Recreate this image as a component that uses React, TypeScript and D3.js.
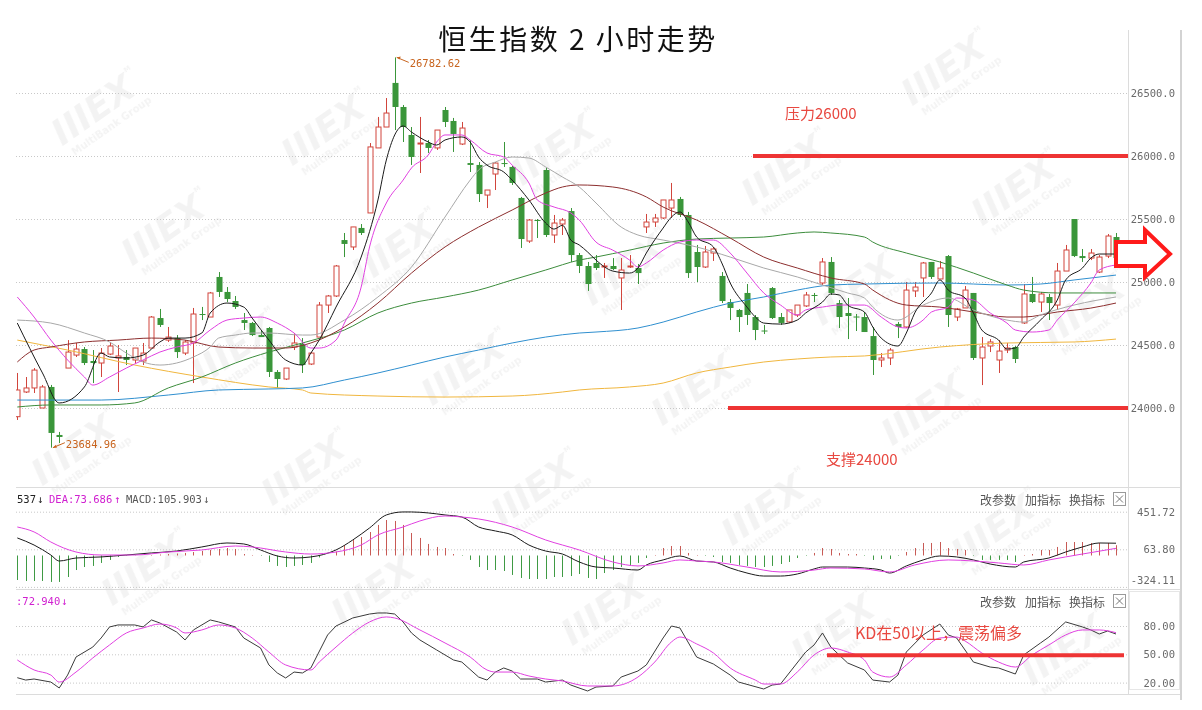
import React from "react";
import * as d3 from "d3";

// ---------- DATA ----------
const opens = [23931,24127,24159,24000,24167,23786,24317,24420,24468,24373,24357,24428,24397,24405,24381,24373,24476,24714,24539,24555,24436,24516,24746,24722,25040,24921,24849,24698,24675,24579,24635,24286,24230,24484,24508,24349,24563,24817,24889,25333,25278,25429,25548,26064,26230,26580,26389,26167,26095,26103,26064,26365,26278,26095,25944,25929,25690,25857,25944,25913,25667,25325,25492,25889,25373,25460,25563,25214,25127,25151,25119,25127,25032,25119,25111,25437,25476,25508,25587,25659,25532,25238,25119,25230,25048,24841,24778,24913,24722,24615,24952,24722,24683,24738,24810,24897,24992,25159,24833,24754,24726,24722,24571,24381,24397,24667,24643,24929,25032,25159,25024,25206,24722,24794,24913,24397,24492,24381,24460,24484,24675,24905,24841,24881,24817,25087,25500,25206,25190,25079,25206,25357];
const highs = [24278,24246,24317,24183,24183,23810,24539,24516,24484,24460,24476,24524,24500,24460,24476,24516,24730,24786,24643,24579,24539,24794,24802,24921,25079,24960,24889,24754,24683,24619,24643,24301,24317,24595,24555,24444,24841,24897,25135,25389,25437,25460,26103,26310,26460,26782.62,26405,26230,26310,26127,26206,26389,26302,26270,26127,25952,25730,25952,26111,25921,25675,25500,25500,25905,25532,25508,25587,25230,25159,25214,25151,25190,25190,25214,25143,25540,25540,25651,25786,25675,25556,25294,25286,25278,25079,24865,24786,24984,24738,24659,24960,24754,24778,24817,24921,24913,25190,25198,24857,24873,24746,24762,24643,24436,24476,24683,25000,25000,25159,25159,25167,25214,24794,24968,24913,24563,24547,24539,24516,24492,24984,25040,24921,24905,25151,25294,25500,25262,25262,25214,25381,25389];
const lows = [23905,24119,24119,24000,23684.96,23722,24317,24405,24341,24198,24246,24420,24127,24341,24357,24341,24476,24643,24524,24397,24420,24198,24698,24722,24881,24841,24786,24619,24571,24563,24246,24159,24222,24460,24278,24341,24563,24754,24881,25198,25254,25373,25548,26064,26230,26206,26111,25929,25865,26024,26048,26230,26032,26087,25873,25635,25587,25730,25913,25770,25270,25310,25349,25357,25310,25373,25159,25071,24929,25095,25032,25095,24778,25111,24984,25389,25437,25500,25508,25516,25032,25000,25111,25167,24833,24698,24603,24659,24539,24587,24706,24659,24675,24722,24802,24841,24976,24897,24635,24547,24611,24603,24262,24325,24341,24555,24635,24881,24881,25024,25024,24643,24690,24794,24381,24182,24444,24278,24436,24357,24667,24833,24762,24698,24778,25087,25198,25159,25174,25071,25190,25111];
const closes = [24143,24159,24301,24167,23802,23770,24444,24468,24357,24357,24436,24492,24413,24381,24476,24436,24722,24659,24563,24444,24524,24746,24738,24913,24921,24865,24802,24675,24579,24563,24286,24230,24317,24516,24341,24436,24817,24889,25127,25302,25437,25389,26072,26230,26341,26389,26230,25992,26103,26064,26206,26270,26175,26222,25929,25698,25730,25944,25936,25786,25341,25492,25484,25373,25468,25492,25214,25127,24984,25111,25127,25103,25095,25127,25071,25476,25508,25651,25651,25532,25071,25119,25238,25262,24849,24794,24722,24738,24619,24611,24714,24675,24778,24817,24897,24889,25159,24913,24722,24730,24722,24603,24381,24397,24460,24643,24936,24960,25151,25040,25111,24738,24786,24936,24397,24484,24524,24452,24476,24389,24905,24841,24905,24833,25087,25254,25206,25190,25230,25198,25365,25190];

// moving averages, read at sample candles: [candle index, value]
const ma5 = [[0,24674],[3,24278],[5,24040],[8,24167],[10,24436],[11,24405],[13,24397],[15,24420],[17,24524],[18,24555],[20,24555],[22,24595],[23,24754],[25,24833],[27,24801],[28,24714],[30,24539],[32,24381],[34,24341],[35,24436],[36,24539],[38,24801],[41,25198],[43,25651],[44,25968],[46,26238],[47,26190],[49,26111],[50,26087],[51,26127],[53,26151],[54,26111],[55,25992],[56,25928],[58,25873],[59,25809],[61,25651],[63,25468],[64,25420],[65,25450],[66,25333],[67,25294],[68,25238],[69,25174],[71,25087],[73,25071],[74,25111],[75,25230],[77,25428],[78,25516],[79,25556],[80,25476],[81,25357],[83,25278],[84,25151],[85,24992],[87,24801],[88,24722],[89,24674],[91,24666],[93,24698],[94,24754],[96,24841],[97,24905],[98,24897],[99,24817],[101,24762],[102,24643],[103,24555],[105,24492],[106,24595],[107,24754],[109,24913],[110,25016],[111,24936],[113,24873],[114,24754],[115,24619],[117,24539],[118,24468],[119,24476],[120,24563],[122,24698],[124,24857],[125,25016],[127,25111],[128,25190],[129,25222],[131,25222]];
const ma10 = [[0,24881],[2,24722],[4,24539],[6,24381],[8,24246],[9,24182],[11,24246],[13,24317],[15,24381],[17,24444],[19,24484],[21,24516],[23,24619],[25,24698],[27,24714],[29,24722],[31,24674],[33,24595],[35,24476],[36,24476],[38,24539],[39,24674],[41,24960],[42,25278],[44,25627],[46,25809],[47,25905],[49,26008],[50,26111],[51,26167],[53,26167],[54,26127],[56,26024],[58,25992],[59,25928],[61,25786],[62,25651],[64,25595],[66,25548],[67,25492],[69,25317],[71,25253],[73,25174],[74,25119],[75,25151],[77,25253],[79,25317],[81,25333],[83,25333],[85,25230],[87,25071],[89,24913],[91,24817],[93,24738],[94,24778],[96,24801],[98,24817],[101,24817],[103,24722],[105,24643],[106,24635],[108,24698],[109,24762],[111,24801],[112,24873],[114,24857],[116,24754],[118,24674],[119,24619],[121,24603],[123,24619],[124,24698],[126,24833],[128,24992],[129,25095],[131,25135]];
const ma20 = [[0,24698],[4,24674],[8,24595],[11,24524],[13,24436],[15,24365],[17,24341],[19,24357],[21,24405],[23,24484],[24,24555],[26,24579],[28,24595],[30,24595],[34,24579],[35,24579],[39,24698],[43,24881],[47,25119],[51,25516],[54,25809],[55,25889],[57,25952],[59,25992],[61,25984],[63,25913],[65,25833],[67,25754],[69,25627],[72,25436],[74,25373],[77,25333],[81,25278],[85,25198],[89,25111],[93,25040],[96,24976],[99,24913],[101,24873],[102,24800],[105,24698],[108,24817],[111,24873],[114,24778],[118,24698],[120,24682],[122,24738],[126,24817],[131,24881]];
const ma30 = [[0,24365],[2,24460],[4,24484],[8,24524],[12,24539],[16,24555],[20,24539],[24,24484],[28,24476],[32,24476],[35,24516],[39,24643],[43,24833],[47,25071],[51,25278],[55,25436],[59,25571],[63,25706],[65,25754],[67,25770],[71,25754],[75,25675],[77,25595],[81,25492],[85,25349],[89,25198],[93,25111],[97,25032],[101,24984],[102,24936],[106,24817],[110,24801],[114,24762],[118,24722],[120,24722],[124,24762],[128,24793],[131,24833]];
const ma60 = [[0,24008],[4,24024],[10,24024],[14,24040],[18,24159],[22,24246],[26,24357],[30,24444],[34,24516],[39,24619],[43,24754],[47,24833],[51,24881],[55,24936],[59,25016],[63,25095],[67,25174],[69,25198],[73,25253],[77,25309],[81,25341],[85,25349],[89,25357],[93,25389],[95,25397],[97,25389],[101,25357],[102,25317],[106,25230],[110,25159],[114,25071],[118,24976],[120,24936],[124,24913],[131,24913]];
const ma120 = [[0,24063],[10,24063],[18,24103],[24,24143],[30,24151],[34,24159],[39,24222],[43,24278],[47,24341],[51,24405],[55,24460],[59,24516],[63,24563],[67,24595],[69,24603],[74,24635],[77,24682],[81,24762],[85,24833],[89,24881],[93,24936],[97,24976],[101,24984],[110,24992],[118,24976],[122,24984],[126,25016],[131,25055]];
const ma250 = [[0,24539],[6,24460],[14,24341],[22,24246],[30,24167],[34,24143],[35,24119],[43,24095],[51,24087],[59,24095],[65,24127],[67,24143],[73,24167],[77,24198],[81,24278],[85,24325],[89,24365],[93,24389],[97,24405],[101,24413],[110,24484],[118,24516],[126,24524],[131,24547]];

const macdHist = [-253,-263,-263,-263,-273,-273,-222,-150,-119,-108,-77,-46,-15,-5,
  -2,0,5,10,15,20,26,36,46,57,67,77,67,15,5,-5,
  -67,-108,-119,-108,-98,-77,-20,0,40,108,160,191,242,315,366,356,
  315,232,181,119,88,77,15,-5,
  -46,-119,-150,-150,-160,-201,-232,-243,-243,-243,-222,-222,-212,-191,-232,-243,-181,-150,-119,-98,-77,-26,
  5,77,98,98,26,5,-5,-15,-67,-77,-98,-108,-119,-119,-108,-88,-67,-26,-5,26,
  77,67,26,15,15,-5,-46,-36,-36,-5,36,77,129,129,139,77,67,57,-5,-46,-46,-46,-46,-67,5,15,57,57,88,139,139,139,129,129,129,105.9];
const difPts = [[0,181],[2,108],[4,5],[5,-57],[7,-26],[10,-15],[13,5],[16,26],[19,46],[22,88],[25,129],[27,119],[29,57],[31,-5],[33,-26],[35,-15],[38,57],[40,160],[42,284],[44,418],[46,449],[47,449],[49,439],[51,418],[53,397],[55,294],[57,253],[59,212],[61,108],[63,46],[65,15],[67,-67],[69,-119],[71,-129],[74,-150],[75,-98],[77,-46],[79,-5],[81,-57],[83,-67],[85,-129],[87,-181],[89,-212],[91,-212],[93,-191],[95,-139],[96,-119],[99,-119],[101,-129],[103,-150],[104,-181],[106,-108],[108,-46],[110,-5],[112,-15],[114,-46],[116,-88],[119,-119],[120,-67],[123,-26],[125,36],[127,88],[129,129],[131,126.637]];
const deaPts = [[0,294],[2,243],[4,139],[7,36],[10,5],[14,5],[18,36],[22,57],[26,98],[28,88],[32,36],[35,15],[38,36],[41,108],[43,212],[46,294],[48,356],[51,408],[53,397],[55,377],[59,294],[63,160],[67,57],[71,-67],[74,-108],[77,-77],[79,-46],[81,-57],[83,-67],[87,-119],[91,-170],[95,-150],[97,-129],[101,-139],[104,-170],[107,-98],[111,-46],[114,-57],[117,-77],[120,-98],[123,-46],[127,15],[131,73.686]];
const kPts = [[0,25.2],[1,22.7],[2,23.8],[4,20.6],[5,14.3],[6,28],[7,47.1],[9,57.7],[10,67.3],[11,79],[12,81.1],[14,81.1],[15,79],[16,86.4],[17,83.2],[19,73.6],[20,65.2],[21,75.8],[23,86.4],[24,84.3],[26,79],[27,67.3],[29,56.7],[30,38.7],[31,30.2],[32,24.9],[33,31.2],[34,30.2],[35,35.5],[37,70.5],[38,80],[40,88.5],[42,92.7],[43,93.8],[44,93.8],[45,92.7],[46,84.3],[47,72.6],[48,65.2],[50,54.6],[52,44],[53,41.8],[55,25.9],[56,22.7],[57,31.2],[58,35.5],[59,32.3],[60,23.8],[62,23.8],[63,20.6],[65,22.7],[66,17.4],[68,11.1],[69,15.3],[71,16.4],[72,25.9],[74,32.3],[75,38.7],[77,67.3],[78,80],[79,77.9],[81,47.1],[83,39.7],[85,28],[86,20.6],[89,13.2],[90,17.4],[91,18.5],[94,52.4],[95,59.9],[96,72.6],[97,57.7],[99,40.8],[101,33.4],[102,22.7],[104,20.6],[105,28],[106,52.4],[108,70.5],[110,82.1],[111,70.5],[112,67.3],[114,41.8],[116,36.5],[117,35.5],[119,29.1],[120,49.3],[122,62],[123,68.3],[125,84.3],[127,79],[128,75.8],[129,71.5],[130,74.7],[131,71.5]];
const dPts = [[0,44],[2,33.4],[4,28],[5,20.6],[7,31.2],[9,46.1],[11,59.9],[13,72.6],[15,77.9],[17,82.1],[19,77.9],[20,72.6],[22,75.8],[24,81.1],[26,77.9],[28,67.3],[30,52.4],[32,38.7],[35,33.4],[36,41.8],[38,57.7],[40,72.6],[42,84.3],[44,89.6],[45,88.5],[48,75.8],[51,62],[54,47.1],[56,33.4],[57,31.2],[59,31.2],[61,27],[63,23.8],[65,21.7],[68,16.4],[71,16.4],[74,25.9],[76,41.8],[78,63.1],[79,68.3],[81,61],[83,51.4],[85,35.5],[88,22.7],[89,18.5],[91,18.5],[93,31.2],[95,49.3],[97,56.7],[99,52.4],[101,44],[102,31.2],[104,25.9],[106,38.7],[108,54.6],[110,67.3],[112,68.3],[113,64.1],[115,51.4],[117,41.8],[119,36.5],[121,49.3],[123,59.9],[125,70.5],[127,75.8],[129,75.8],[131,72.94]];

const priceTicks = [24000, 24500, 25000, 25500, 26000, 26500];
const macdTicks = [451.72, 63.80, -324.11];
const kdTicks = [80, 50, 20];
const maxLabel = "26782.62";
const minLabel = "23684.96";

// ---------- STYLE ----------
const RED = "#d1453c";
const GREEN = "#3a963a";
const ANNO = "#ee3434";
const MONO = "'DejaVu Sans Mono', 'Liberation Mono', monospace";
const CJK = "'Noto Sans CJK SC', 'Noto Sans', sans-serif";

type P = number[];

export default function App() {
  const x = d3.scaleLinear().domain([0, 131]).range([17.3, 1116]);
  const yP = d3.scaleLinear().domain([24000, 26500]).range([408, 93]);
  const yM = d3.scaleLinear().domain([-324.11, 451.72]).range([586.9, 511.7]);
  const yK = d3.scaleLinear().domain([20, 80]).range([682.6, 626]);

  const lineP = d3.line<P>().x(d => x(d[0])).y(d => yP(d[1])).curve(d3.curveMonotoneX);
  const lineM = d3.line<P>().x(d => x(d[0])).y(d => yM(d[1])).curve(d3.curveMonotoneX);
  const lineK = d3.line<P>().x(d => x(d[0])).y(d => yK(d[1]));
  const lineD = d3.line<P>().x(d => x(d[0])).y(d => yK(d[1])).curve(d3.curveMonotoneX);

  const maList: [P[], string][] = [
    [ma250, "#f0b63e"], [ma120, "#2f8fcf"], [ma60, "#3c8c3c"], [ma30, "#8c2e2e"],
    [ma20, "#a8a8a8"], [ma10, "#e040e0"], [ma5, "#1a1a1a"],
  ];

  // watermark lattice (decoration)
  const marks: [number, number][] = [];
  for (let m = -3; m <= 6; m++) for (let n = -2; n <= 6; n++) {
    const cx = 100 + 230 * m + 70 * n, cy = 120 + 20 * m + 120 * n;
    if (cx > 70 && cx < 1130 && cy > 60 && cy < 670) marks.push([cx, cy]);
  }

  const hiIdx = highs.indexOf(d3.max(highs)!);
  const loIdx = lows.indexOf(d3.min(lows)!);

  const header = (y: number) => (
    <g fontFamily={CJK} fontSize={12} fill="#555">
      <text x={980} y={y} dominantBaseline="central">改参数</text>
      <text x={1025} y={y} dominantBaseline="central">加指标</text>
      <text x={1069} y={y} dominantBaseline="central">换指标</text>
      <rect x={1113.5} y={y - 6.5} width={12} height={13} fill="#fff" stroke="#999" />
      <path d={`M${1116},${y - 3.5}L${1123},${y + 3.5}M${1123},${y - 3.5}L${1116},${y + 3.5}`} stroke="#777" />
    </g>
  );

  return (
    <svg width={1202} height={710} viewBox="0 0 1202 710"
      style={{ position: "absolute", left: 0, top: 0, display: "block", background: "#fff" }}>
      <defs>
        <clipPath id="plot"><rect x={16} y={30} width={1112} height={457} /></clipPath>
        <clipPath id="macdc"><rect x={16} y={488} width={1112} height={101} /></clipPath>
        <clipPath id="kdc"><rect x={16} y={590} width={1112} height={104} /></clipPath>
      </defs>
      <rect width={1202} height={710} fill="#fff" />

      {/* watermarks */}
      <g fill="#000" opacity={0.05} fontFamily="'DejaVu Sans', sans-serif">
        {marks.map(([cx, cy], k) => (
          <g key={k} transform={`translate(${cx},${cy}) rotate(-35)`}>
            <text x={0} y={0} fontSize={36} fontWeight={900} fontStyle="italic" textAnchor="middle">IIIEX</text>
            <text x={48} y={-24} fontSize={7} fontWeight={700}>M</text>
            <text x={6} y={15} fontSize={10} fontWeight={700} textAnchor="middle">MultiBank Group</text>
          </g>
        ))}
      </g>

      {/* frames */}
      <g stroke="#dcdcdc" fill="none">
        <line x1={1128.5} y1={30} x2={1128.5} y2={695} />
        <line x1={16} y1={487.5} x2={1180} y2={487.5} />
        <line x1={16} y1={589.5} x2={1180} y2={589.5} />
        <line x1={16} y1={694.5} x2={1180} y2={694.5} />
        <rect x={1129.5} y={591.5} width={50} height={98} stroke="#e6e6e6" />
      </g>
      <line x1={1181} y1={30} x2={1181} y2={700} stroke="#c4c4c4" strokeWidth={1.5} />

      {/* grids */}
      <g stroke="#c8c8c8" strokeDasharray="1 2">
        {priceTicks.map(t => <line key={t} x1={16} x2={1128} y1={yP(t) + 0.5} y2={yP(t) + 0.5} />)}
        {macdTicks.map(t => <line key={t} x1={16} x2={1128} y1={yM(t) + 0.5} y2={yM(t) + 0.5} />)}
        {kdTicks.map(t => <line key={t} x1={16} x2={1128} y1={yK(t) + 0.5} y2={yK(t) + 0.5} />)}
      </g>

      {/* axis labels */}
      <g fontFamily={MONO} fontSize={10.5} fill="#6a6a6a" textAnchor="end">
        {priceTicks.map(t => <text key={t} x={1175} y={yP(t)} dominantBaseline="central">{t.toFixed(1)}</text>)}
        {macdTicks.map(t => <text key={t} x={1175} y={Math.min(yM(t), 580)} dominantBaseline="central">{t.toFixed(2)}</text>)}
        {kdTicks.map(t => <text key={t} x={1175} y={yK(t)} dominantBaseline="central">{t.toFixed(2)}</text>)}
      </g>

      {/* candles */}
      <g clipPath="url(#plot)">
        {closes.map((c, i) => {
          const o = opens[i], up = c >= o, col = up ? RED : GREEN;
          const cx = Math.round(x(i)) + 0.5;
          const top = yP(Math.max(o, c)), bot = yP(Math.min(o, c));
          const h = Math.max(1, bot - top);
          return (
            <g key={i}>
              <line x1={cx} x2={cx} y1={yP(highs[i])} y2={yP(lows[i])} stroke={col} />
              {up
                ? <rect x={cx - 2.5} y={top} width={5} height={h} fill="#fff" stroke={col} />
                : <rect x={cx - 3} y={top} width={6} height={h} fill={col} />}
            </g>
          );
        })}
        {maList.map(([pts, col], k) => (
          <path key={k} d={lineP(pts)!} fill="none" stroke={col} strokeWidth={1} />
        ))}
      </g>

      {/* extreme labels */}
      <g fill="#c8641e" stroke="none" fontFamily={MONO} fontSize={10.5}>
        <line x1={x(hiIdx) + 2} y1={yP(highs[hiIdx])} x2={x(hiIdx) + 14} y2={yP(highs[hiIdx]) + 5} stroke="#c8641e" />
        <path d={`M${x(hiIdx) + 2},${yP(highs[hiIdx])}l4,-1l-1,3z`} />
        <text x={x(hiIdx) + 15} y={yP(highs[hiIdx]) + 6} dominantBaseline="central">{maxLabel}</text>
        <line x1={x(loIdx) + 2} y1={yP(lows[loIdx])} x2={x(loIdx) + 14} y2={yP(lows[loIdx]) - 5} stroke="#c8641e" />
        <path d={`M${x(loIdx) + 2},${yP(lows[loIdx])}l3,-3l1,3z`} />
        <text x={x(loIdx) + 15} y={yP(lows[loIdx]) - 4} dominantBaseline="central">{minLabel}</text>
      </g>

      {/* MACD */}
      <g clipPath="url(#macdc)">
        {macdHist.map((v, i) => (
          <line key={i} x1={Math.round(x(i)) + 0.5} x2={Math.round(x(i)) + 0.5} y1={yM(0)} y2={yM(v)}
            stroke={v >= 0 ? "#c85a55" : "#3f9a44"} strokeWidth={1} />
        ))}
        <path d={lineM(difPts)!} fill="none" stroke="#1a1a1a" />
        <path d={lineM(deaPts)!} fill="none" stroke="#e040e0" />
      </g>
      <g fontFamily={MONO} fontSize={10.5}>
        <text x={17} y={499} dominantBaseline="central" fill="#222">537</text>
        <text x={37} y={499} dominantBaseline="central" fill="#222">↓</text>
        <text x={49} y={499} dominantBaseline="central" fill="#d020d0">DEA:73.686</text>
        <text x={114} y={499} dominantBaseline="central" fill="#d020d0">↑</text>
        <text x={126} y={499} dominantBaseline="central" fill="#555">MACD:105.903</text>
        <text x={203} y={499} dominantBaseline="central" fill="#555">↓</text>
      </g>
      {header(499)}

      {/* KD */}
      <g clipPath="url(#kdc)">
        <path d={lineK(kPts)!} fill="none" stroke="#3a3a3a" />
        <path d={lineD(dPts)!} fill="none" stroke="#e040e0" />
      </g>
      <g fontFamily={MONO} fontSize={10.5} fill="#d020d0">
        <text x={16} y={601} dominantBaseline="central">:72.940</text>
        <text x={61} y={601} dominantBaseline="central">↓</text>
      </g>
      {header(601)}

      {/* annotations */}
      <line x1={753} x2={1128} y1={yP(26000)} y2={yP(26000)} stroke={ANNO} strokeWidth={4} />
      <line x1={728} x2={1128} y1={yP(24000)} y2={yP(24000)} stroke={ANNO} strokeWidth={4} />
      <line x1={827} x2={1124} y1={yK(50) + 1} y2={yK(50) + 1} stroke={ANNO} strokeWidth={4} />
      <g fontFamily={CJK} fill="#e84840">
        <text x={785} y={112} fontSize={15} dominantBaseline="central">压力26000</text>
        <text x={826} y={458} fontSize={15} dominantBaseline="central">支撑24000</text>
        <text x={855} y={632} fontSize={16} dominantBaseline="central">KD在50以上，震荡偏多</text>
      </g>
      <path d="M1116,242L1145,242L1145,230L1170,254L1145,277L1145,266L1116,266Z"
        fill="#fff" stroke="#ff1a1a" strokeWidth={4} strokeLinejoin="miter" />

      {/* title */}
      <text x={578} y={38} textAnchor="middle" dominantBaseline="central" fontFamily={CJK}
        fontSize={28} letterSpacing={2.5} fill="#111">恒生指数 2 小时走势</text>
    </svg>
  );
}
